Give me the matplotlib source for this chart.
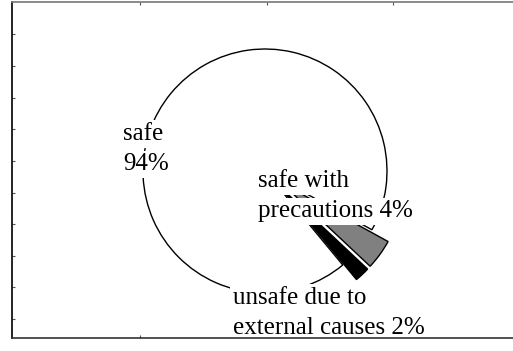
import matplotlib.pyplot as plt

# pie data
categories = ['safe', 'safe with\nprecautions', 'unsafe due to\nexternal causes']
shares = [94, 4, 2]
slice_colors = ['white', '#808080', 'black']
explode = [0, 20, 20]  # data units (pixels)

# frame tick positions (pixel coords from the picture)
x_ticks = [140, 267, 393]
y_ticks_px = [34, 66, 98, 129, 161, 193, 224, 256, 287, 319]

W, H = 513, 351
fig = plt.figure(figsize=(W / 100, H / 100), dpi=100)
ax = fig.add_axes([12 / W, 13 / H, 508 / W, 336 / H])

ax.pie(shares, colors=slice_colors, explode=explode, radius=122,
       center=(265, 180), startangle=309.6, counterclock=False, frame=True,
       wedgeprops=dict(edgecolor='black', linewidth=1.0))
ax.set_xlim(12, 520)
ax.set_ylim(13, 349)
ax.set_aspect('auto')

# frame styling
ax.spines['left'].set_color('black')
ax.spines['top'].set_color('#777777')
ax.spines['bottom'].set_color('#333333')
for s in ['left', 'top', 'bottom']:
    ax.spines[s].set_linewidth(1.2)
    ax.spines[s].set_zorder(10)
ax.spines['right'].set_visible(False)
ax.set_xticks(x_ticks)
ax.set_yticks([H - y for y in y_ticks_px])
ax.set_xticklabels([])
ax.set_yticklabels([])
ax.tick_params(direction='in', length=2, width=0.8, color='#555555',
               top=True, bottom=True, left=True, right=False)

# labels, one white box per line
label_pos = [(123, 140), (258, 187), (233, 304)]
for cat, val, (lx, ly) in zip(categories, shares, label_pos):
    lines = (cat + ' ' if '\n' in cat else cat + '\n') + f'{val}%'
    for i, line in enumerate(lines.split('\n')):
        ax.text(lx, H - (ly + 30.5 * i), line, family='Liberation Serif',
                fontsize=18, ha='left', va='baseline', zorder=5,
                bbox=dict(facecolor='white', edgecolor='none', pad=2))

fig.savefig('out.png', dpi=100)
